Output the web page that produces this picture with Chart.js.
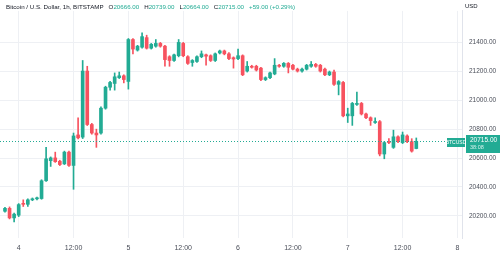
<!DOCTYPE html>
<html>
<head>
<meta charset="utf-8">
<script src="https://cdn.jsdelivr.net/npm/chart.js@4/dist/chart.umd.min.js"></script>
<style>
    html, body { margin: 0; padding: 0; background: #ffffff; }
    #wrap { position: relative; width: 500px; height: 257px; }
    #legend {
        position: absolute; left: 6px; top: 3px;
        font: 6.2px "Liberation Sans", Arial, sans-serif;
        color: #131722; white-space: nowrap;
    }
    #legend .k { margin-left: 5px; }
    #legend .v { color: #22ab94; }
    #unit {
        position: absolute; left: 465px; top: 3px;
        font: 6px "Liberation Sans", Arial, sans-serif; color: #131722;
    }
</style>
</head>
<body>
<div id="wrap">
    <canvas id="btcChart"></canvas>
    <div id="legend">Bitcoin / U.S. Dollar, 1h, BITSTAMP<span class="k">O</span><span class="v">20666.00</span><span class="k">H</span><span class="v">20739.00</span><span class="k">L</span><span class="v">20664.00</span><span class="k">C</span><span class="v">20715.00</span><span class="v" style="margin-left:5px">+59.00 (+0.29%)</span></div>
    <div id="unit">USD</div>
</div>
<script>
// hourly candles, first one is 21:00 on the 3rd
const opens = [20232,20252,20186,20205,20285,20280,20311,20318,20320,20443,
    20582,20601,20578,20560,20641,20549,20760,20745,21202,20832,
    20773,20773,20945,21090,21116,21156,21169,21130,21420,21347,
    21367,21433,21360,21374,21393,21374,21301,21275,21308,21393,
    21301,21261,21268,21301,21314,21308,21275,21327,21341,21321,
    21294,21288,21308,21202,21235,21235,21222,21143,21156,21182,
    21242,21235,21255,21242,21215,21202,21215,21235,21248,21242,
    21215,21176,21195,21110,21123,20892,20892,20971,20978,20905,
    20879,20846,20852,20628,20714,20674,20747,20707,20753,20714,
    20666];
const highs = [20260,20262,20220,20285,20311,20318,20324,20330,20450,20674,
    20608,20641,20585,20648,20648,20773,20879,21275,21235,20840,
    20800,20955,21097,21130,21189,21195,21176,21427,21427,21380,
    21466,21450,21393,21420,21400,21380,21308,21320,21420,21400,
    21308,21281,21308,21341,21320,21314,21327,21347,21347,21330,
    21300,21354,21314,21268,21242,21242,21228,21162,21195,21288,
    21248,21261,21261,21248,21222,21222,21248,21268,21255,21248,
    21222,21202,21209,21136,21130,20945,20985,21057,20985,20912,
    20885,20879,20860,20714,20734,20793,20753,20780,20760,20734,
    20739];
const lows = [20225,20179,20159,20195,20265,20265,20305,20310,20315,20438,
    20542,20570,20548,20555,20542,20384,20733,20735,20825,20765,
    20674,20765,20938,21070,21070,21150,21120,21077,21321,21340,
    21360,21354,21354,21367,21367,21235,21235,21268,21300,21301,
    21248,21235,21262,21294,21242,21268,21268,21320,21314,21281,
    21222,21281,21170,21195,21222,21202,21136,21136,21150,21176,
    21228,21228,21189,21209,21195,21195,21209,21228,21228,21195,
    21170,21170,21103,21037,20885,20846,20826,20965,20898,20872,
    20826,20840,20615,20595,20700,20667,20707,20700,20707,20641,
    20664];
const closes = [20252,20186,20212,20278,20280,20311,20318,20324,20443,20595,
    20601,20575,20555,20641,20549,20753,20740,21202,20832,20773,
    20760,20945,21090,21123,21162,21169,21143,21420,21354,21374,
    21440,21360,21387,21393,21374,21281,21275,21314,21400,21308,
    21255,21275,21301,21321,21305,21275,21321,21341,21321,21288,
    21285,21308,21176,21235,21228,21209,21143,21156,21189,21242,
    21235,21255,21228,21215,21202,21215,21242,21248,21235,21202,
    21176,21195,21110,21129,20892,20905,20978,20978,20905,20879,
    20859,20852,20628,20707,20707,20747,20714,20760,20714,20648,
    20715];

// x axis: candle slots, labels sit on midnight / noon
const tickSlots = [3, 15, 27, 39, 51, 63, 75, 87, 99];
const tickLabels = ['4', '12:00', '5', '12:00', '6', '12:00', '7', '12:00', '8'];
const priceTicks = [20200, 20400, 20600, 20800, 21000, 21200, 21400];

const upColor = '#22ab94';
const downColor = '#f7525f';
const gridColor = '#eef0f4';

const candleColors = opens.map((o, i) => closes[i] >= o ? upColor : downColor);
const bodies = opens.map((o, i) => ({ x: i, y: [o, closes[i]] }));
const wicks = lows.map((l, i) => ({ x: i, y: [l, highs[i]] }));

const lastClose = closes[closes.length - 1];

// dotted last-price line plus the two labels on the right
const lastPricePlugin = {
    id: 'lastPrice',
    afterDraw(chart) {
        const ctx = chart.ctx;
        const area = chart.chartArea;
        const y = Math.round(chart.scales.y.getPixelForValue(lastClose)) + 0.5;
        ctx.save();
        ctx.strokeStyle = upColor;
        ctx.lineWidth = 1;
        ctx.setLineDash([1, 2]);
        ctx.beginPath();
        ctx.moveTo(area.left, y);
        ctx.lineTo(area.right, y);
        ctx.stroke();
        ctx.setLineDash([]);

        // symbol tag
        ctx.fillStyle = upColor;
        ctx.fillRect(area.right - 15, y - 3.5, 18, 9);
        ctx.fillStyle = '#ffffff';
        ctx.font = '5px "Liberation Sans", Arial, sans-serif';
        ctx.textAlign = 'center';
        ctx.textBaseline = 'middle';
        ctx.fillText('BTCUSD', area.right - 6, y + 1);

        // price tag with countdown
        ctx.fillStyle = upColor;
        ctx.fillRect(area.right + 4, y - 6.5, 38, 18);
        ctx.fillStyle = '#ffffff';
        ctx.font = '6.5px "Liberation Sans", Arial, sans-serif';
        ctx.textAlign = 'left';
        ctx.fillText(lastClose.toFixed(2), area.right + 8, y - 1);
        ctx.font = '5.5px "Liberation Sans", Arial, sans-serif';
        ctx.fillStyle = '#d4f2ec';
        ctx.fillText('38:08', area.right + 8, y + 6);
        ctx.restore();
    }
};

new Chart(document.getElementById('btcChart'), {
    type: 'bar',
    data: {
        datasets: [
            {
                data: bodies,
                backgroundColor: candleColors,
                borderWidth: 0,
                barThickness: 3,
                minBarLength: 1,
                grouped: false,
                order: 0
            },
            {
                data: wicks,
                backgroundColor: candleColors,
                borderWidth: 0,
                barThickness: 1,
                grouped: false,
                order: 1
            }
        ]
    },
    options: {
        responsive: true,
        maintainAspectRatio: false,
        devicePixelRatio: 1,
        animation: false,
        layout: { padding: 0 },
        plugins: {
            legend: { display: false },
            tooltip: { enabled: false }
        },
        scales: {
            x: {
                type: 'linear',
                offset: false,
                min: -1.09,
                max: 100,
                grid: { color: gridColor, drawTicks: false, offset: false },
                border: { display: false },
                afterBuildTicks: scale => {
                    scale.ticks = tickSlots.map(v => ({ value: v }));
                },
                afterFit: scale => { scale.height = 19; },
                ticks: {
                    padding: 6,
                    maxRotation: 0,
                    autoSkip: false,
                    color: '#4a4e59',
                    font: { family: '"Liberation Sans", Arial, sans-serif', size: 7 },
                    callback: value => tickLabels[tickSlots.indexOf(value)]
                }
            },
            y: {
                position: 'right',
                min: 20047,
                max: 21618,
                grid: { color: gridColor, drawTicks: false },
                border: { display: true, color: '#e0e3eb' },
                afterBuildTicks: scale => {
                    scale.ticks = priceTicks.map(v => ({ value: v }));
                },
                afterFit: scale => { scale.width = 38; },
                ticks: {
                    padding: 7,
                    color: '#4a4e59',
                    font: { family: '"Liberation Sans", Arial, sans-serif', size: 6.5 },
                    callback: value => value.toFixed(2)
                }
            }
        }
    },
    plugins: [lastPricePlugin]
});
</script>
</body>
</html>
